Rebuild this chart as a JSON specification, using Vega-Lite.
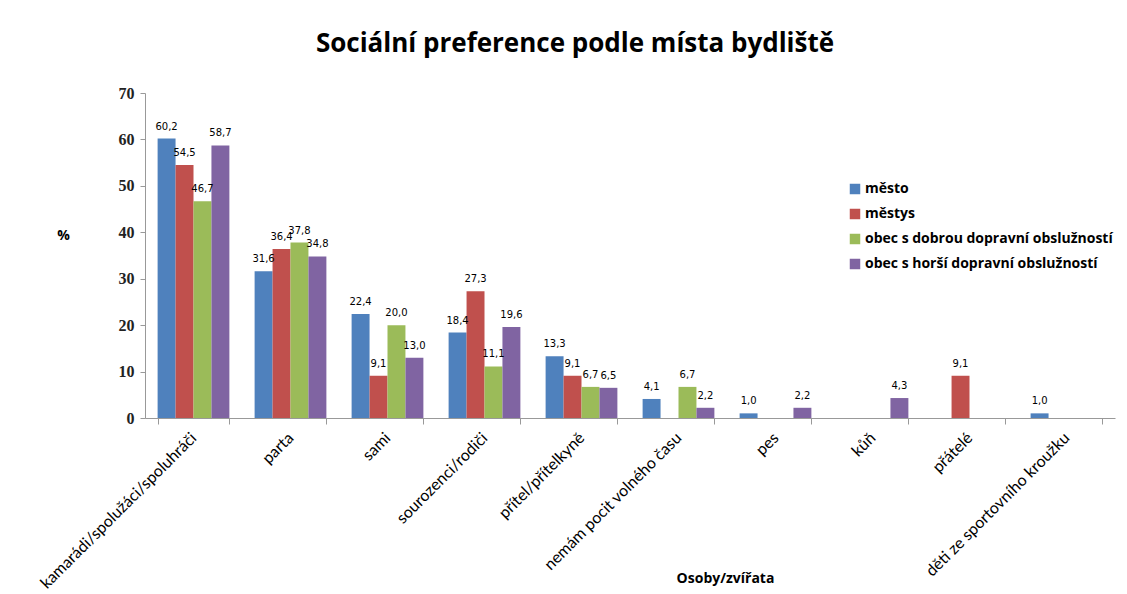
{
  "$schema": "https://vega.github.io/schema/vega-lite/v6.json",
  "autosize": {"type": "none"},
  "padding": {"left": 145, "top": 93, "right": 12, "bottom": 176},
  "width": 970,
  "height": 325,
  "background": "white",
  "config": {
    "view": {"stroke": null},
    "locale": {"number": {"decimal": ",", "thousands": " ", "grouping": [3], "currency": ["", " Kč"]}}
  },
  "title": {
    "text": "Sociální preference podle místa bydliště",
    "font": "Open Sans",
    "fontSize": 26,
    "fontWeight": "bold",
    "color": "#000000",
    "anchor": "middle",
    "frame": "group",
    "dx": -55,
    "offset": 28
  },
  "data": {
    "values": [
      {"kategorie": "kamarádi/spolužáci/spoluhráči", "skupina": "město", "hodnota": 60.2},
      {"kategorie": "kamarádi/spolužáci/spoluhráči", "skupina": "městys", "hodnota": 54.5},
      {"kategorie": "kamarádi/spolužáci/spoluhráči", "skupina": "obec s dobrou dopravní obslužností", "hodnota": 46.7},
      {"kategorie": "kamarádi/spolužáci/spoluhráči", "skupina": "obec s horší dopravní obslužností", "hodnota": 58.7},
      {"kategorie": "parta", "skupina": "město", "hodnota": 31.6},
      {"kategorie": "parta", "skupina": "městys", "hodnota": 36.4},
      {"kategorie": "parta", "skupina": "obec s dobrou dopravní obslužností", "hodnota": 37.8},
      {"kategorie": "parta", "skupina": "obec s horší dopravní obslužností", "hodnota": 34.8},
      {"kategorie": "sami", "skupina": "město", "hodnota": 22.4},
      {"kategorie": "sami", "skupina": "městys", "hodnota": 9.1},
      {"kategorie": "sami", "skupina": "obec s dobrou dopravní obslužností", "hodnota": 20.0},
      {"kategorie": "sami", "skupina": "obec s horší dopravní obslužností", "hodnota": 13.0},
      {"kategorie": "sourozenci/rodiči", "skupina": "město", "hodnota": 18.4},
      {"kategorie": "sourozenci/rodiči", "skupina": "městys", "hodnota": 27.3},
      {"kategorie": "sourozenci/rodiči", "skupina": "obec s dobrou dopravní obslužností", "hodnota": 11.1},
      {"kategorie": "sourozenci/rodiči", "skupina": "obec s horší dopravní obslužností", "hodnota": 19.6},
      {"kategorie": "přítel/přítelkyně", "skupina": "město", "hodnota": 13.3},
      {"kategorie": "přítel/přítelkyně", "skupina": "městys", "hodnota": 9.1},
      {"kategorie": "přítel/přítelkyně", "skupina": "obec s dobrou dopravní obslužností", "hodnota": 6.7},
      {"kategorie": "přítel/přítelkyně", "skupina": "obec s horší dopravní obslužností", "hodnota": 6.5},
      {"kategorie": "nemám pocit volného času", "skupina": "město", "hodnota": 4.1},
      {"kategorie": "nemám pocit volného času", "skupina": "obec s dobrou dopravní obslužností", "hodnota": 6.7},
      {"kategorie": "nemám pocit volného času", "skupina": "obec s horší dopravní obslužností", "hodnota": 2.2},
      {"kategorie": "pes", "skupina": "město", "hodnota": 1.0},
      {"kategorie": "pes", "skupina": "obec s horší dopravní obslužností", "hodnota": 2.2},
      {"kategorie": "kůň", "skupina": "obec s horší dopravní obslužností", "hodnota": 4.3},
      {"kategorie": "přátelé", "skupina": "městys", "hodnota": 9.1},
      {"kategorie": "děti ze sportovního kroužku", "skupina": "město", "hodnota": 1.0}
    ]
  },
  "encoding": {
    "x": {
      "field": "kategorie",
      "type": "nominal",
      "sort": null,
      "scale": {
        "domain": ["kamarádi/spolužáci/spoluhráči", "parta", "sami", "sourozenci/rodiči", "přítel/přítelkyně", "nemám pocit volného času", "pes", "kůň", "přátelé", "děti ze sportovního kroužku"],
        "paddingInner": 0.26,
        "paddingOuter": 0.13
      },
      "axis": {
        "title": "Osoby/zvířata",
        "titleFont": "Open Sans",
        "titleFontSize": 14,
        "titleFontWeight": "bold",
        "titleColor": "#000000",
        "titleX": 580,
        "titleY": 153,
        "titleAnchor": "middle",
        "titleAlign": "center",
        "labelAngle": -45,
        "labelAlign": "right",
        "labelBaseline": "middle",
        "labelFont": "Lato",
        "labelFontSize": 16,
        "labelColor": "#000000",
        "labelPadding": 11,
        "labelOverlap": false,
        "labelLimit": 400,
        "tickBand": "extent",
        "tickColor": "#999999",
        "tickSize": 6,
        "domainColor": "#999999"
      }
    },
    "xOffset": {
      "field": "skupina",
      "type": "nominal",
      "scale": {"domain": ["město", "městys", "obec s dobrou dopravní obslužností", "obec s horší dopravní obslužností"], "paddingInner": 0, "paddingOuter": 0}
    },
    "y": {
      "field": "hodnota",
      "type": "quantitative",
      "scale": {"domain": [0, 70], "nice": false},
      "axis": {
        "values": [0, 10, 20, 30, 40, 50, 60, 70],
        "grid": false,
        "title": "%",
        "titleAngle": 0,
        "titleFont": "Open Sans",
        "titleFontSize": 14,
        "titleFontWeight": "bold",
        "titleColor": "#000000",
        "titleX": -82,
        "titleY": 142,
        "titleAlign": "center",
        "titleBaseline": "middle",
        "labelFont": "Liberation Serif",
        "labelFontSize": 16,
        "labelFontWeight": "bold",
        "labelColor": "#222222",
        "labelPadding": 6,
        "tickColor": "#999999",
        "tickSize": 5,
        "domainColor": "#999999"
      }
    }
  },
  "layer": [
    {
      "mark": {"type": "bar"},
      "encoding": {
        "color": {
          "field": "skupina",
          "type": "nominal",
          "scale": {
            "domain": ["město", "městys", "obec s dobrou dopravní obslužností", "obec s horší dopravní obslužností"],
            "range": ["#4F81BD", "#C0504D", "#9BBB59", "#8064A2"]
          },
          "legend": {
            "title": null,
            "orient": "none",
            "legendX": 703,
            "legendY": 89,
            "symbolType": "square",
            "symbolSize": 110,
            "symbolStrokeWidth": 0,
            "labelFont": "Open Sans",
            "labelFontSize": 14,
            "labelFontWeight": "bold",
            "labelColor": "#000000",
            "labelLimit": 400,
            "labelOffset": 3,
            "rowPadding": 11
          }
        }
      }
    },
    {
      "mark": {"type": "text", "baseline": "bottom", "dy": -7, "font": "DejaVu Sans", "fontSize": 10, "color": "#000000"},
      "encoding": {
        "text": {"field": "hodnota", "type": "quantitative", "format": ".1f"}
      }
    }
  ]
}
